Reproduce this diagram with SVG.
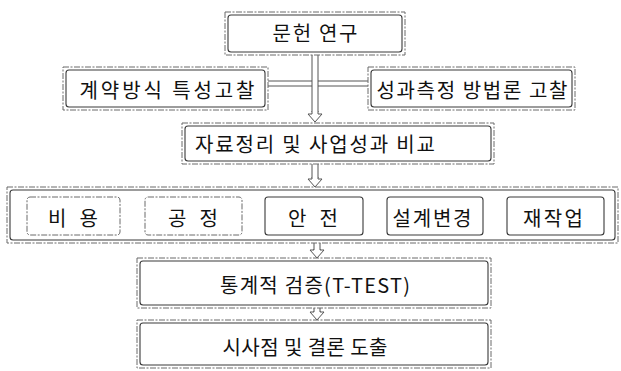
<svg xmlns="http://www.w3.org/2000/svg" width="621" height="371" viewBox="0 0 621 371">
<style>
.outer{fill:none;stroke:#6a6a6a;stroke-width:1;stroke-dasharray:6 1.5 2 1.5}
.inner{fill:none;stroke:#3a3a3a;stroke-width:1.1}
.t{font-family:"Noto Sans CJK KR","Noto Sans",sans-serif;font-size:20px;fill:#111;text-anchor:middle;dominant-baseline:central}
.ln{fill:none;stroke:#555;stroke-width:1}
.arr{fill:#fff;stroke:#555;stroke-width:1}
</style>
<rect width="621" height="371" fill="#fff"/>
<g id="connectors">
<path class="ln" d="M312,55V112M318,55V112M268,81H312M318,81H368M268,86H312M318,86H368"/>
<path class="arr" d="M312,111V114H308L315,122L322,114H318V111"/>
<path class="ln" d="M312,164V178M318,164V178"/>
<path class="arr" d="M312,177V179H308L315,187L322,179H318V177"/>
<path class="ln" d="M314,243V250M320,243V250"/>
<path class="arr" d="M314,249V250H310L317,258L324,250H320V249"/>
<path class="ln" d="M314,308V312M320,308V312"/>
<path class="arr" d="M314,311V312H310L317,320L324,312H320V311"/>
</g>
<g id="n-munheon">
<rect class="outer" x="225" y="12" width="180" height="43"/>
<rect class="inner" x="228" y="15" width="174" height="37" rx="3"/>
<text class="t" x="315" y="32" textLength="85">문헌 연구</text>
</g>
<g id="n-contract">
<rect class="outer" x="63" y="67" width="205" height="43"/>
<rect class="inner" x="66" y="70" width="199" height="37" rx="3"/>
<text class="t" x="167" y="89" textLength="175">계약방식 특성고찰</text>
</g>
<g id="n-perf">
<rect class="outer" x="368" y="67" width="207" height="43"/>
<rect class="inner" x="371" y="70" width="201" height="37" rx="3"/>
<text class="t" x="472" y="89" textLength="191">성과측정 방법론 고찰</text>
</g>
<g id="n-data">
<rect class="outer" x="182" y="123" width="312" height="41"/>
<rect class="inner" x="185" y="126" width="306" height="35" rx="3"/>
<text class="t" x="315" y="143" textLength="240">자료정리 및 사업성과 비교</text>
</g>
<g id="n-group">
<rect class="outer" x="7" y="187" width="611" height="56"/>
<rect class="inner" x="10" y="190" width="605" height="50" rx="3"/>
</g>
<g id="n-cost">
<rect class="outer" x="27" y="197" width="93" height="38" rx="3"/>
<text class="t" x="73" y="217" textLength="50">비 용</text>
</g>
<g id="n-schedule">
<rect class="outer" x="145" y="197" width="97" height="38" rx="3"/>
<text class="t" x="193" y="217" textLength="50">공 정</text>
</g>
<g id="n-safety">
<rect class="inner" x="265" y="197" width="98" height="38" rx="3"/>
<text class="t" x="313" y="217" textLength="50">안 전</text>
</g>
<g id="n-design">
<rect class="inner" x="387" y="197" width="96" height="38" rx="3"/>
<text class="t" x="432" y="217" textLength="79">설계변경</text>
</g>
<g id="n-rework">
<rect class="inner" x="507" y="197" width="97" height="38" rx="3"/>
<text class="t" x="553" y="217" textLength="60">재작업</text>
</g>
<g id="n-ttest">
<rect class="outer" x="137" y="258" width="354" height="50"/>
<rect class="inner" x="140" y="261" width="348" height="44" rx="3"/>
<text class="t" x="315" y="284" textLength="190">통계적 검증(T-TEST)</text>
</g>
<g id="n-conclusion">
<rect class="outer" x="137" y="320" width="354" height="48"/>
<rect class="inner" x="140" y="323" width="348" height="42" rx="3"/>
<text class="t" x="305" y="346" textLength="165">시사점 및 결론 도출</text>
</g>
</svg>
